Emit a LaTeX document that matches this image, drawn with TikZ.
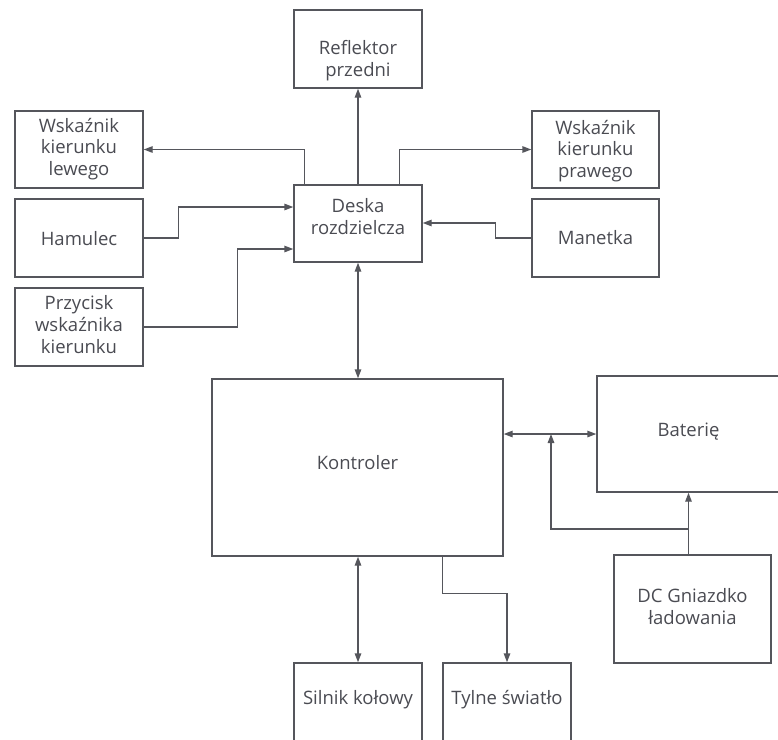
\documentclass[tikz,border=0pt]{standalone}
\usepackage{fontspec}
\setmainfont{Open Sans}
\usetikzlibrary{arrows.meta,calc}
\definecolor{linec}{HTML}{55565C}
\definecolor{textc}{HTML}{4A4B52}
\newcommand\mvtxt[2]{\raisebox{#1}[\height][\depth]{\begin{tabular}{@{}c@{}}#2\end{tabular}}}
\begin{document}
\begin{tikzpicture}[x=1pt,y=-1pt,
  box/.style={draw=linec,line width=1.4pt,text=textc,align=center,inner sep=0pt,
    font=\fontsize{18.5}{21.7}\selectfont},
  conn/.style={draw=linec,line width=1.4pt},
  arr/.style={conn,-{Triangle[length=9pt,width=6.5pt]}},
  darr/.style={conn,{Triangle[length=9pt,width=6.5pt]}-{Triangle[length=9pt,width=6.5pt]}}]
\useasboundingbox (0,0) rectangle (778,739);
\clip (0,0) rectangle (778,739);
% boxes
\node[box,minimum width=128pt,minimum height=78pt] (refl) at (358,49) {\mvtxt{-12pt}{Reflektor\\przedni}};
\node[box,minimum width=128pt,minimum height=77pt] (wl) at (79,149.5) {\mvtxt{0pt}{Wskaźnik\\kierunku\\lewego}};
\node[box,minimum width=128pt,minimum height=78pt] (ham) at (79,238) {\mvtxt{-3pt}{Hamulec}};
\node[box,minimum width=128pt,minimum height=78pt] (przy) at (79,327) {\mvtxt{0pt}{Przycisk\\wskaźnika\\kierunku}};
\node[box,minimum width=128pt,minimum height=77pt] (deska) at (358,223.5) {\mvtxt{4pt}{Deska\\rozdzielcza}};
\node[box,minimum width=127pt,minimum height=77pt] (wr) at (595.5,149.5) {\mvtxt{-2pt}{Wskaźnik\\kierunku\\prawego}};
\node[box,minimum width=127pt,minimum height=78pt] (man) at (595.5,238) {\mvtxt{-2pt}{Manetka}};
\node[box,minimum width=291pt,minimum height=177pt] (kon) at (357.5,467.5) {\mvtxt{2pt}{Kontroler}};
\node[box,minimum width=183pt,minimum height=116pt] (bat) at (688.5,434) {\mvtxt{2pt}{Baterię}};
\node[box,minimum width=157pt,minimum height=108pt] (dc) at (692.5,609) {\mvtxt{0pt}{DC Gniazdko\\ładowania}};
\node[box,minimum width=128pt,minimum height=78pt] (sil) at (358,702) {\mvtxt{2pt}{Silnik kołowy}};
\node[box,minimum width=128pt,minimum height=78pt] (tyl) at (507,702) {\mvtxt{2pt}{Tylne światło}};
% connectors
\draw[arr] (deska.north) -- (refl.south);
\draw[arr] ($(deska.north west)+(11,0)$) |- (wl.east);
\draw[arr] ($(deska.north east)+(-23,0)$) |- (wr.west);
\draw[arr] (ham.east) -- ++(35,0) |- ($(deska.west)+(0,-16.5)$);
\draw[arr] (przy.east) -- ++(94,0) |- ($(deska.west)+(0,25.5)$);
\draw[arr] (man.west) -- ++(-36,0) |- ($(deska.east)+(0,-0.5)$);
\draw[darr] (deska.south) -- (deska.south |- kon.north);
\draw[darr] (bat.west -| kon.east) -- (bat.west);
\coordinate (j1) at (bat.south |- 0,529);
\coordinate (j2) at (551,529);
\draw[arr] (dc.north -| bat.south) -- (bat.south);
\draw[arr] (j1) -- (j2) -- (j2 |- bat.west);
\draw[darr] (sil.north |- kon.south) -- (sil.north);
\draw[arr] (kon.south -| tyl.west) -- ++(0,37) -| (tyl.north);
\end{tikzpicture}
\end{document}
